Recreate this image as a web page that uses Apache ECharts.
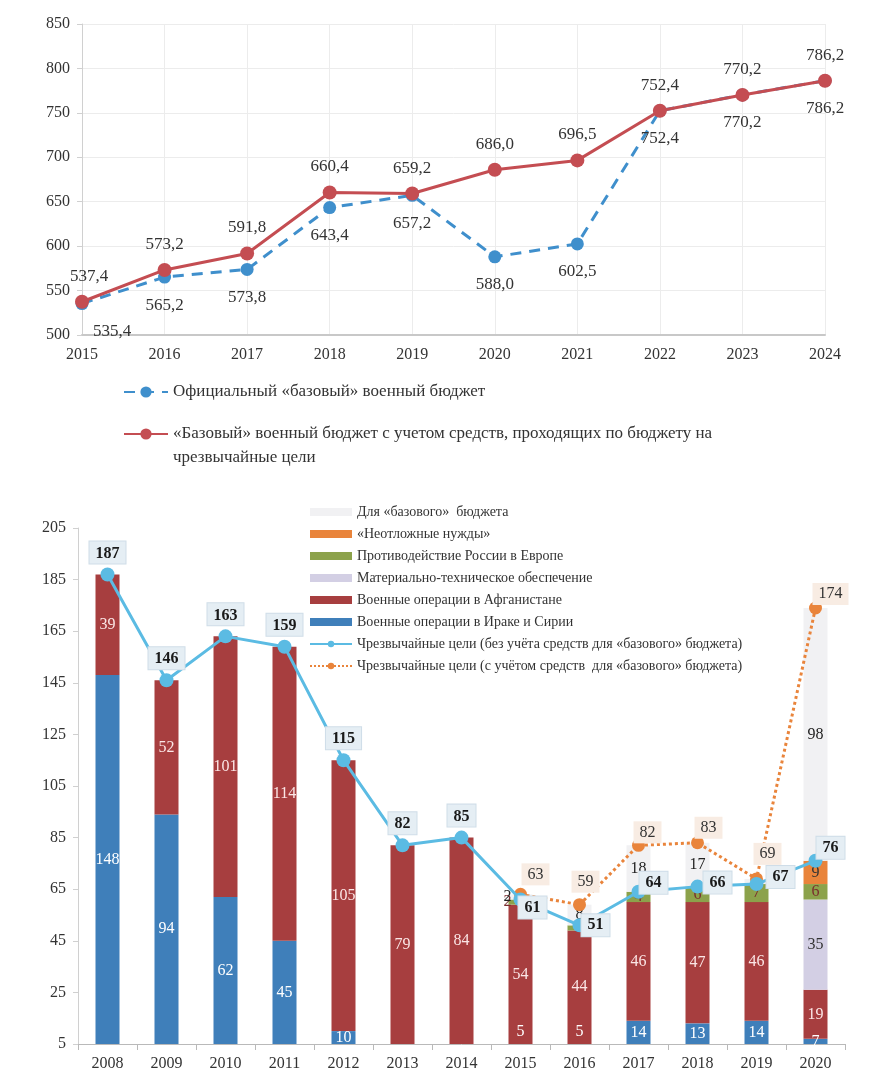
<!DOCTYPE html>
<html>
<head>
<meta charset="utf-8">
<script src="https://cdn.jsdelivr.net/npm/echarts@6/dist/echarts.min.js"></script>
<style>
html,body{margin:0;padding:0;background:#fff;}
#c{width:888px;height:1088px;}
</style>
</head>
<body>
<div id="c"></div>
<script>
// ---- Top chart data ----
const years1 = ['2015','2016','2017','2018','2019','2020','2021','2022','2023','2024'];
const officialBase = [535.4,565.2,573.8,643.4,657.2,588.0,602.5,752.4,770.2,786.2];
const baseWithOCO = [537.4,573.2,591.8,660.4,659.2,686.0,696.5,752.4,770.2,786.2];

// ---- Bottom chart data ----
const years2 = ['2008','2009','2010','2011','2012','2013','2014','2015','2016','2017','2018','2019','2020'];
const iraqSyria   = [148,94,62,45,10,3,1,5,5,14,13,14,7];
const afghanistan = [39,52,101,114,105,79,84,54,44,46,47,46,19];
const logistics   = [null,null,null,null,null,null,null,null,null,null,null,null,35];
const counterRussia = [null,null,null,null,null,null,null,2,2,4,6,7,6];
const urgentNeeds = [null,null,null,null,null,null,null,null,null,null,null,null,9];
const forBase     = [null,null,null,null,null,null,null,2,8,18,17,2,98];
const ocoWithout  = [187,146,163,159,115,82,85,61,51,64,66,67,76];
const ocoWith     = [null,null,null,null,null,null,null,63,59,82,83,69,174];

const N1 = 'Официальный «базовый» военный бюджет';
const N2 = '«Базовый» военный бюджет с учетом средств, проходящих по бюджету на\nчрезвычайные цели';
const B1 = 'Для «базового»  бюджета';
const B2 = '«Неотложные нужды»';
const B3 = 'Противодействие России в Европе';
const B4 = 'Материально-техническое обеспечение';
const B5 = 'Военные операции в Афганистане';
const B6 = 'Военные операции в Ираке и Сирии';
const L1 = 'Чрезвычайные цели (без учёта средств для «базового» бюджета)';
const L2 = 'Чрезвычайные цели (с учётом средств  для «базового» бюджета)';

const FONT = 'Liberation Serif';
const fmt1 = v => v.toFixed(1).replace('.', ',');

// label placement tweaks (pixel offsets only)
const ocoWithoutOffsets = {7: [12, 8], 8: [16, 0], 9: [15, -9], 10: [20, -4], 11: [24, -7], 12: [15, -13]};
const ocoWithOffsets = {7: [15, -20], 8: [6, -23], 9: [9, -13], 10: [11, -15], 11: [11, -25], 12: [15, -14]};
const smallLabelOffsets = {7: [-13, 0]};

const chart = echarts.init(document.getElementById('c'), null, {renderer: 'canvas'});

function barSeries(name, data, color, labelColor, formatter) {
  return {
    name, type: 'bar', stack: 'oco', xAxisIndex: 1, yAxisIndex: 1,
    barWidth: 24, data,
    itemStyle: {color},
    label: {show: true, position: 'inside', color: labelColor, fontFamily: FONT, fontSize: 16,
      formatter: formatter || (p => p.value == null ? '' : String(p.value))}
  };
}
const withOffsets = arr => arr.map((v, i) => smallLabelOffsets[i] && v != null
  ? {value: v, label: {offset: smallLabelOffsets[i]}} : v);

const iraqData = iraqSyria.map(v => v <= 5 ? {value: v, label: {position: 'insideBottom', distance: 4}} : v);

const labelBox = {fontFamily: FONT, fontSize: 16};

const option = {
  animation: false,
  backgroundColor: '#ffffff',
  textStyle: {fontFamily: FONT},
  grid: [
    {left: 82, right: 63, top: 24, height: 311},
    {left: 78, right: 43, top: 528, bottom: 44}
  ],
  legend: [
    {
      data: [{name: N1}],
      orient: 'vertical', left: 118, top: 375,
      itemWidth: 44, itemHeight: 14,
      textStyle: {fontFamily: FONT, fontSize: 17, color: '#333', lineHeight: 24}
    },
    {
      data: [{name: N2}],
      formatter: name => '\n' + name,
      orient: 'vertical', left: 118, top: 393,
      itemWidth: 44, itemHeight: 14,
      textStyle: {fontFamily: FONT, fontSize: 17, color: '#333', lineHeight: 24}
    },
    {
      data: [
        {name: B1, icon: 'rect'}, {name: B2, icon: 'rect'}, {name: B3, icon: 'rect'},
        {name: B4, icon: 'rect'}, {name: B5, icon: 'rect'}, {name: B6, icon: 'rect'},
        {name: L1}, {name: L2}
      ],
      orient: 'vertical', left: 304, top: 499, itemGap: 6,
      itemWidth: 42, itemHeight: 8,
      textStyle: {fontFamily: FONT, fontSize: 14, color: '#333', lineHeight: 16}
    }
  ],
  xAxis: [
    {
      gridIndex: 0, type: 'category', data: years1, boundaryGap: false,
      axisLine: {lineStyle: {color: '#c8c8c8', width: 2}},
      axisTick: {show: false},
      axisLabel: {fontFamily: FONT, fontSize: 16, color: '#333', margin: 12},
      splitLine: {show: true, lineStyle: {color: '#ececec'}}
    },
    {
      gridIndex: 1, type: 'category', data: years2, boundaryGap: true,
      axisLine: {lineStyle: {color: '#b9b9b9', width: 1}},
      axisTick: {show: true, length: 6, lineStyle: {color: '#b9b9b9'}},
      axisLabel: {fontFamily: FONT, fontSize: 16, color: '#333', margin: 12}
    }
  ],
  yAxis: [
    {
      gridIndex: 0, type: 'value', min: 500, max: 850, interval: 50,
      axisLine: {show: true, lineStyle: {color: '#d0d0d0'}},
      axisTick: {show: true, length: 5, lineStyle: {color: '#d0d0d0'}},
      axisLabel: {fontFamily: FONT, fontSize: 16, color: '#333', margin: 12},
      splitLine: {show: true, lineStyle: {color: '#ececec'}}
    },
    {
      gridIndex: 1, type: 'value', min: 5, max: 205, interval: 20,
      axisLine: {show: true, lineStyle: {color: '#d0d0d0'}},
      axisTick: {show: true, length: 5, lineStyle: {color: '#d0d0d0'}},
      axisLabel: {fontFamily: FONT, fontSize: 16, color: '#333', margin: 12},
      splitLine: {show: false}
    }
  ],
  series: [
    {
      name: N1, type: 'line', xAxisIndex: 0, yAxisIndex: 0,
      data: officialBase.map((v, i) => i === 0 ? {value: v, label: {offset: [30, 0]}} : v),
      symbol: 'circle', symbolSize: 13,
      lineStyle: {color: '#3f8fcc', width: 3, type: [11, 8]},
      itemStyle: {color: '#3f8fcc'},
      label: {show: true, position: 'bottom', distance: 13, fontFamily: FONT, fontSize: 17, color: '#333',
        formatter: p => fmt1(p.value)},
      z: 3
    },
    {
      name: N2, type: 'line', xAxisIndex: 0, yAxisIndex: 0,
      data: baseWithOCO.map((v, i) => i === 0 ? {value: v, label: {offset: [7, 0]}} : v),
      symbol: 'circle', symbolSize: 14,
      lineStyle: {color: '#c44d52', width: 3},
      itemStyle: {color: '#c44d52'},
      label: {show: true, position: 'top', distance: 10, fontFamily: FONT, fontSize: 17, color: '#333',
        formatter: p => fmt1(p.value)},
      z: 4
    },
    barSeries(B6, iraqData, '#3f7fba', '#ffffff', p => p.value < 5 ? '' : String(p.value)),
    barSeries(B5, afghanistan, '#a73e3f', '#fbe6e6'),
    barSeries(B4, logistics, '#d3cfe4', '#333'),
    barSeries(B3, withOffsets(counterRussia), '#8ca24b', '#7a2e2e'),
    barSeries(B2, urgentNeeds, '#e9843b', '#333'),
    barSeries(B1, withOffsets(forBase), '#f1f1f3', '#222'),
    {
      name: L1, type: 'line', xAxisIndex: 1, yAxisIndex: 1,
      data: ocoWithout.map((v, i) => ocoWithoutOffsets[i]
        ? {value: v, label: {position: 'inside', offset: ocoWithoutOffsets[i]}} : v),
      symbol: 'circle', symbolSize: 14,
      lineStyle: {color: '#5bbbe3', width: 3},
      itemStyle: {color: '#5bbbe3'},
      label: Object.assign({show: true, position: 'top', distance: 4, fontWeight: 'bold',
        color: '#1a1a1a', backgroundColor: '#e5eef4', borderColor: '#cfdde8', borderWidth: 1, padding: [4, 6, 2, 6]}, labelBox),
      z: 5
    },
    {
      name: L2, type: 'line', xAxisIndex: 1, yAxisIndex: 1,
      data: ocoWith.map((v, i) => ocoWithOffsets[i]
        ? {value: v, label: {offset: ocoWithOffsets[i]}} : v),
      symbol: 'circle', symbolSize: 13,
      lineStyle: {color: '#e9843b', width: 3, type: 'dotted'},
      itemStyle: {color: '#e9843b'},
      label: Object.assign({show: true, position: 'inside',
        color: '#333', backgroundColor: '#f8ece3', padding: [4, 6, 2, 6]}, labelBox),
      z: 4
    }
  ]
};
chart.setOption(option);
</script>
</body>
</html>
